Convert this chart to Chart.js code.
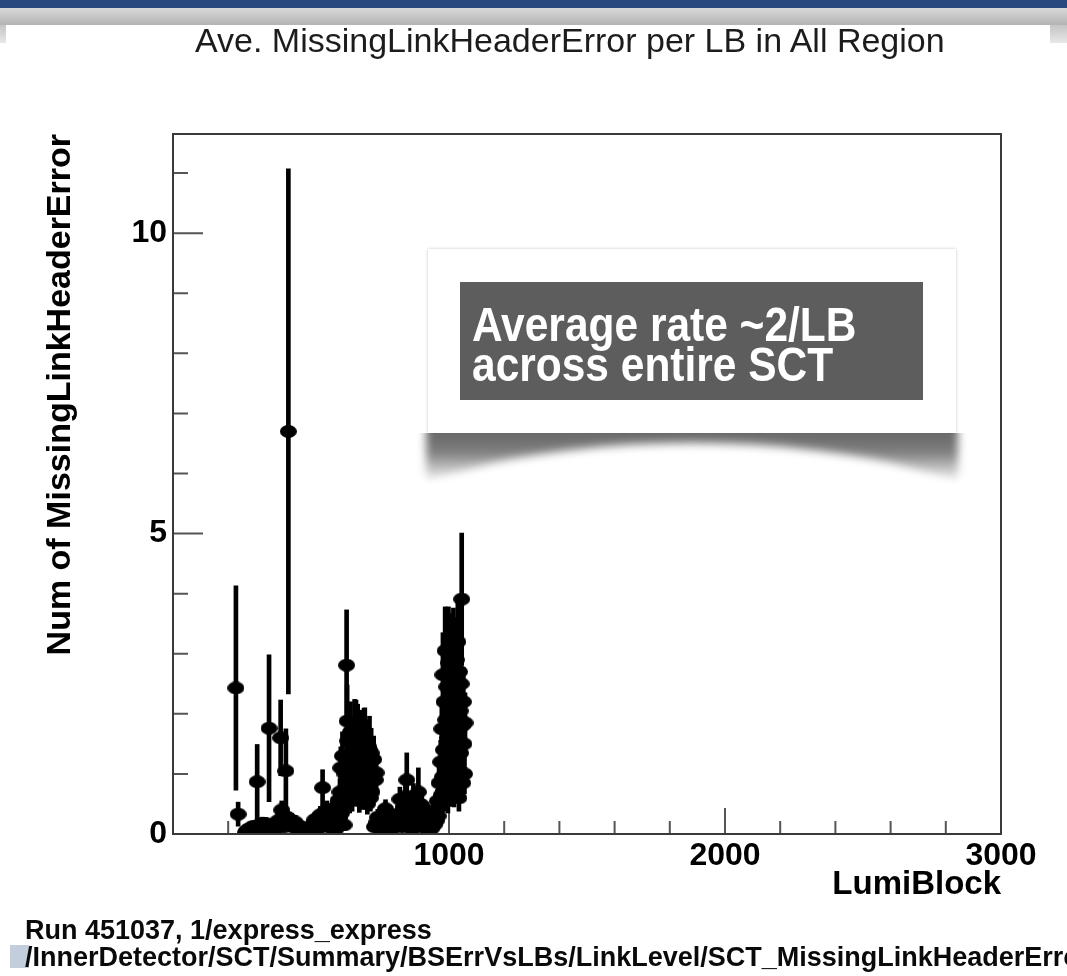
<!DOCTYPE html>
<html>
<head>
<meta charset="utf-8">
<script src="https://cdn.jsdelivr.net/npm/chart.js@4.4.1/dist/chart.umd.min.js"></script>
<style>
  html, body { margin:0; padding:0; width:1067px; height:976px; overflow:hidden; background:#ffffff; }
  body { font-family: "Liberation Sans", Arial, Helvetica, sans-serif; }
  #wrap { position:relative; width:1067px; height:976px; overflow:hidden; }
  #c { position:absolute; left:0; top:0; }
  #topbar { position:absolute; left:0; top:0; width:1067px; height:8px; background:#2a4a7e; }
  #band { position:absolute; left:0; top:8px; width:1067px; height:17px; background:linear-gradient(#d9d9d9, #b3b3b3); }
  #sideL { position:absolute; left:0; top:25px; width:6px; height:18px; background:linear-gradient(#c4c4c4, #e8e8e8); }
  #sideR { position:absolute; left:1050px; top:25px; width:17px; height:18px; background:linear-gradient(#c4c4c4, #e8e8e8); }
  #title { position:absolute; left:195px; top:23px; font-size:34px; line-height:34px; color:#1c1c1c; white-space:nowrap; }
  #shadow { position:absolute; left:414px; top:433px; width:556px; height:60px; overflow:hidden; }
  #shade { position:absolute; left:12px; top:-6px; width:532px; height:56px;
           background:linear-gradient(to bottom, rgba(0,0,0,0.62) 0%, rgba(0,0,0,0.50) 45%, rgba(0,0,0,0) 100%);
           filter:blur(4px); }
  #lens { position:absolute; left:-43px; top:10px; width:642px; height:194px; border-radius:50%; background:#ffffff; filter:blur(5px); }
  #note { position:absolute; left:428px; top:249px; width:528px; height:184px; background:#ffffff;
          box-shadow:0 0 3px rgba(0,0,0,0.22); }
  #dark { position:absolute; left:32px; top:33px; width:463px; height:118px; background:#5d5d5d; }
  #noteText { position:absolute; left:12px; top:23px; color:#ffffff; font-weight:bold; font-size:48px; line-height:40px;
              white-space:nowrap; transform:scaleX(0.885); transform-origin:0 0; }
  #sq { position:absolute; left:10px; top:945px; width:19px; height:23px; background:#c3cedc; }
  #foot { position:absolute; left:25px; top:917px; font-size:27px; line-height:27px; font-weight:bold; color:#0a0a0a; white-space:nowrap; }
</style>
</head>
<body>
<div id="wrap">
  <canvas id="c" width="1067" height="976"></canvas>
  <div id="topbar"></div>
  <div id="band"></div>
  <div id="sideL"></div>
  <div id="sideR"></div>
  <div id="title">Ave. MissingLinkHeaderError per LB in All Region</div>
  <div id="shadow"><div id="shade"></div><div id="lens"></div></div>
  <div id="note"><div id="dark"><div id="noteText">Average rate ~2/LB<br>across entire SCT</div></div></div>
  <div id="sq"></div>
  <div id="foot">Run 451037, 1/express_express<br>/InnerDetector/SCT/Summary/BSErrVsLBs/LinkLevel/SCT_MissingLinkHeaderError</div>
</div>
<script>
// ---- data ----
const lumiBlocks = [
  228, 236,
  262, 266, 270, 274, 278, 282, 286, 290, 294, 298,
  302, 305, 308, 312, 316, 320, 324, 328, 332, 336,
  340, 344, 348, 352, 356, 360, 364, 368, 372, 376,
  380, 384, 388, 390, 394, 398, 402, 405, 409, 413,
  418, 422, 426, 430, 434, 438, 442, 446, 450, 454,
  458, 462, 466, 470, 474, 478, 482, 486, 490, 494, 498,
  502, 506, 510, 514, 518, 522, 526, 530, 534, 538,
  542, 546, 550, 554, 558, 562, 566, 570, 574, 578,
  582, 586, 590, 594, 598, 602, 605,
  608, 611, 614, 617, 620, 623, 626, 629, 631, 634,
  637, 640, 643, 646, 649, 652, 655, 658, 661, 663,
  666, 669, 672, 675, 677, 680, 683, 686, 689, 692,
  695, 698, 701, 704, 707, 710, 712, 715, 718, 721,
  724, 727, 730, 733, 736, 739,
  742, 746, 750, 754, 758, 762, 766, 770, 774, 778,
  782, 786, 790, 794, 798, 802, 806, 810, 814, 818,
  822, 826, 830, 834, 838, 842, 847, 851, 855, 859,
  863, 867, 871, 875, 879, 883, 889, 893, 897, 901,
  905, 909, 913, 917, 921, 925, 929, 933,
  938, 942, 946, 950, 954, 958, 961, 964, 967, 970,
  972, 974, 976, 978, 980, 982, 984, 986, 988, 990,
  992, 994, 996, 998, 1000, 1002, 1004, 1006, 1008, 1010,
  1012, 1014, 1016, 1018, 1020, 1022, 1024, 1026, 1028, 1030,
  1032, 1034, 1036, 1038, 1040, 1042, 1044, 1046, 1048, 1050,
  1052, 1054, 1056, 1058
];
const avgErrors = [
  2.43, 0.33,
  0.02, 0.05, 0.04, 0.08, 0.06, 0.10, 0.07, 0.12, 0.09, 0.05,
  0.11, 0.87, 0.14, 0.08, 0.16, 0.12, 0.18, 0.15, 0.10, 0.17,
  0.13, 0.08, 1.76, 0.14, 0.10, 0.15, 0.12, 0.06, 0.11, 0.17,
  0.22, 0.14, 0.19, 1.60, 0.40, 0.27, 0.21, 0.13, 1.05, 0.28,
  6.70, 0.24, 0.18, 0.22, 0.12, 0.16, 0.20, 0.11, 0.15, 0.08,
  0.13, 0.06, 0.10, 0.05, 0.08, 0.03, 0.06, 0.04, 0.02, 0.05, 0.03,
  0.06, 0.12, 0.18, 0.24, 0.15, 0.21, 0.09, 0.28, 0.32, 0.19,
  0.77, 0.25, 0.14, 0.30, 0.40, 0.22, 0.35, 0.11, 0.29, 0.40,
  0.18, 0.33, 0.08, 0.45, 0.56, 0.26, 0.70,
  1.10, 0.35, 1.30, 0.60, 0.15, 1.00, 0.45, 2.81, 1.88, 1.55,
  0.80, 0.55, 1.70, 1.20, 0.60, 1.45, 0.95, 1.74, 1.25, 1.60,
  0.75, 1.68, 1.05, 0.55, 1.50, 1.15, 1.58, 0.65, 1.35, 1.55,
  1.63, 0.85, 1.20, 0.50, 1.46, 1.00, 1.40, 0.60, 1.35, 0.70,
  0.95, 1.24, 0.12, 0.90, 1.02, 0.20,
  0.28, 0.18, 0.10, 0.06, 0.14, 0.22, 0.30, 0.42, 0.19, 0.09,
  0.04, 0.11, 0.07, 0.16, 0.12, 0.20, 0.26, 0.14, 0.33, 0.22,
  0.58, 0.30, 0.12, 0.45, 0.25, 0.62, 0.90, 0.35, 0.18, 0.50,
  0.28, 0.08, 0.63, 0.40, 0.22, 0.55, 0.70, 0.32, 0.15, 0.48,
  0.26, 0.41, 0.10, 0.35, 0.20, 0.30, 0.06, 0.15,
  0.10, 0.25, 0.15, 0.40, 0.22, 0.55, 0.30, 0.85, 0.45, 1.20,
  0.65, 1.75, 0.95, 2.65, 1.40, 2.20, 0.75, 3.05, 1.90, 1.10,
  2.45, 1.60, 0.55, 2.85, 1.30, 2.10, 3.10, 0.90, 2.35, 1.75,
  2.75, 1.20, 3.00, 0.70, 2.55, 1.95, 1.45, 2.90, 1.05, 2.30,
  3.20, 1.65, 0.60, 2.70, 2.05, 1.35, 2.50, 3.91, 1.80, 0.85,
  2.20, 1.50, 1.00, 1.85
];
const statErrors = [
  1.70, 0.20,
  0.02, 0.05, 0.04, 0.06, 0.05, 0.07, 0.06, 0.08, 0.07, 0.05,
  0.08, 0.62, 0.09, 0.06, 0.10, 0.08, 0.10, 0.09, 0.07, 0.10,
  0.08, 0.06, 1.22, 0.09, 0.07, 0.09, 0.08, 0.05, 0.08, 0.10,
  0.12, 0.09, 0.11, 0.63, 0.15, 0.13, 0.11, 0.08, 0.70, 0.14,
  4.37, 0.12, 0.10, 0.12, 0.08, 0.10, 0.11, 0.07, 0.09, 0.06,
  0.08, 0.05, 0.07, 0.05, 0.06, 0.03, 0.05, 0.04, 0.02, 0.05, 0.03,
  0.05, 0.08, 0.10, 0.12, 0.09, 0.11, 0.07, 0.13, 0.14, 0.11,
  0.30, 0.12, 0.09, 0.14, 0.15, 0.11, 0.14, 0.08, 0.13, 0.15,
  0.10, 0.14, 0.06, 0.17, 0.19, 0.12, 0.22,
  0.35, 0.15, 0.40, 0.22, 0.09, 0.33, 0.17, 0.92, 0.60, 0.45,
  0.27, 0.20, 0.50, 0.38, 0.22, 0.44, 0.32, 0.50, 0.40, 0.63,
  0.26, 0.48, 0.35, 0.19, 0.56, 0.37, 0.46, 0.24, 0.42, 0.54,
  0.47, 0.29, 0.38, 0.17, 0.44, 0.33, 0.56, 0.22, 0.41, 0.25,
  0.31, 0.39, 0.08, 0.31, 0.33, 0.10,
  0.13, 0.10, 0.07, 0.05, 0.09, 0.11, 0.14, 0.15, 0.10, 0.07,
  0.04, 0.08, 0.06, 0.10, 0.08, 0.11, 0.12, 0.09, 0.14, 0.11,
  0.20, 0.14, 0.08, 0.17, 0.12, 0.21, 0.45, 0.15, 0.10, 0.18,
  0.13, 0.06, 0.21, 0.15, 0.11, 0.19, 0.40, 0.14, 0.09, 0.17,
  0.12, 0.16, 0.07, 0.15, 0.11, 0.14, 0.05, 0.09,
  0.07, 0.12, 0.09, 0.15, 0.11, 0.19, 0.14, 0.29, 0.17, 0.36,
  0.23, 0.48, 0.31, 0.70, 0.40, 0.58, 0.26, 0.73, 0.50, 0.35,
  0.64, 0.45, 0.20, 0.93, 0.39, 0.55, 0.57, 0.30, 0.60, 0.48,
  0.68, 0.37, 0.76, 0.25, 0.64, 0.52, 0.42, 0.70, 0.34, 0.58,
  0.72, 0.46, 0.22, 0.66, 0.54, 0.40, 0.62, 1.10, 0.49, 0.29,
  0.57, 0.43, 0.33, 0.50
];
const xTickValues = [1000, 2000, 3000];
const yTickValues = [0, 5, 10];
const xRange = [0, 3000];
const yRange = [0, 11.65];
const xMinorStep = 200, xMajorStep = 1000;
const yMinorStep = 1, yMajorStep = 5;

// ---- build datasets from the arrays ----
const markerPoints = lumiBlocks.map((lb, i) => ({ x: lb, y: avgErrors[i] }));
const errorBars = lumiBlocks.map((lb, i) => ({ x: lb, y: [Math.max(0, avgErrors[i] - statErrors[i]), avgErrors[i] + statErrors[i]] }));

// ROOT-like marker (the picture is slightly stretched horizontally)
const marker = document.createElement('canvas');
marker.width = 17; marker.height = 13;
(function () {
  const m = marker.getContext('2d');
  m.fillStyle = '#000';
  m.beginPath();
  m.ellipse(8.5, 6.5, 8.5, 6.5, 0, 0, Math.PI * 2);
  m.fill();
})();

const fontFam = "'Liberation Sans', Arial, Helvetica, sans-serif";
Chart.defaults.font.family = fontFam;

const rootFrame = {
  id: 'rootFrame',
  beforeDatasetsDraw(chart) {
    const { ctx, chartArea: a, scales: { x, y } } = chart;
    ctx.save();
    ctx.strokeStyle = '#555';
    ctx.lineWidth = 2;
    ctx.beginPath();
    for (let v = xRange[0] + xMinorStep; v < xRange[1]; v += xMinorStep) {
      const px = x.getPixelForValue(v);
      const len = (v % xMajorStep === 0) ? 26 : 13;
      ctx.moveTo(px, a.bottom);
      ctx.lineTo(px, a.bottom - len);
    }
    for (let v = yRange[0] + yMinorStep; v < yRange[1]; v += yMinorStep) {
      const py = y.getPixelForValue(v);
      const len = (v % yMajorStep === 0) ? 30 : 15;
      ctx.moveTo(a.left, py);
      ctx.lineTo(a.left + len, py);
    }
    ctx.stroke();
    ctx.restore();
  },
  afterDatasetsDraw(chart) {
    const { ctx, chartArea: a } = chart;
    ctx.save();
    ctx.strokeStyle = '#3a3a3a';
    ctx.lineWidth = 2;
    ctx.strokeRect(a.left, a.top, a.right - a.left, a.bottom - a.top);
    ctx.restore();
  }
};

new Chart(document.getElementById('c'), {
  type: 'scatter',
  data: {
    datasets: [
      { type: 'bar', data: errorBars, backgroundColor: '#000', borderWidth: 0, barThickness: 4, clip: 0, order: 2 },
      { type: 'scatter', data: markerPoints, pointStyle: marker, pointRadius: 8, pointHoverRadius: 8,
        backgroundColor: '#000', borderWidth: 0, clip: 0, order: 1 }
    ]
  },
  options: {
    responsive: false,
    animation: false,
    devicePixelRatio: 1,
    events: [],
    layout: { padding: { left: 0, top: 134, right: 66, bottom: 0 } },
    plugins: { legend: { display: false }, tooltip: { enabled: false }, title: { display: false } },
    scales: {
      x: {
        type: 'linear', position: 'bottom', min: xRange[0], max: xRange[1], offset: false,
        grid: { display: false, drawTicks: false, offset: false },
        border: { display: false },
        afterBuildTicks: s => { s.ticks = xTickValues.map(v => ({ value: v })); },
        afterFit: s => { s.height = 142; },
        ticks: { autoSkip: false, maxRotation: 0, minRotation: 0, padding: 3, color: '#000',
                 callback: v => String(v),
                 font: { family: fontFam, size: 32, weight: 'bold' } },
        title: { display: true, text: 'LumiBlock', align: 'end', color: '#000',
                 font: { family: fontFam, size: 33, weight: 'bold' }, padding: { top: 0, bottom: 71 } }
      },
      y: {
        type: 'linear', position: 'left', min: yRange[0], max: yRange[1],
        grid: { display: false, drawTicks: false },
        border: { display: false },
        afterBuildTicks: s => { s.ticks = yTickValues.map(v => ({ value: v })); },
        afterFit: s => { s.width = 173; },
        ticks: { padding: 6, color: '#000', callback: v => String(v),
                 font: { family: fontFam, size: 32, weight: 'bold' } },
        title: { display: true, text: 'Num of MissingLinkHeaderError', align: 'end', color: '#000',
                 font: { family: fontFam, size: 34, weight: 'bold' }, padding: { top: 40, bottom: 0 } }
      }
    }
  },
  plugins: [rootFrame]
});
</script>
</body>
</html>
